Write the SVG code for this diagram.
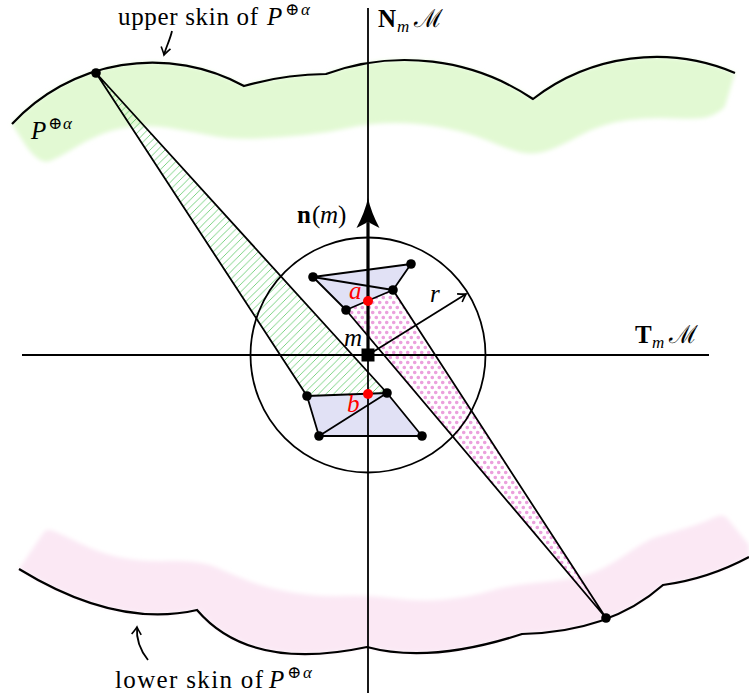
<svg xmlns="http://www.w3.org/2000/svg" width="749" height="700" viewBox="0 0 749 700">
<style>
.ln{fill:none;stroke:#000;stroke-width:1.8;stroke-linejoin:round}
.skin{fill:none;stroke:#000;stroke-width:2.2;stroke-linejoin:miter}
.dot{fill:#000}
.rdot{fill:#ff0000}
.poly{fill:#e1e1f5;stroke:none}
.t{font-family:"Liberation Serif","DejaVu Serif",serif;font-size:25px;fill:#000}
.i{font-style:italic}
.b{font-weight:bold}
.s{font-size:17px}
.red{fill:#ff0000}
</style>
<defs>
<filter id="blur" x="-5%" y="-20%" width="110%" height="140%"><feGaussianBlur stdDeviation="2"/></filter>
<pattern id="hatch" patternUnits="userSpaceOnUse" width="7.5" height="7.5">
<path d="M0,7.5 L7.5,0 M-1,1 L1,-1 M6.5,8.5 L8.5,6.5" stroke="#5cc866" stroke-width="0.8"/>
</pattern>
<pattern id="dots" patternUnits="userSpaceOnUse" width="7" height="10">
<circle cx="1.75" cy="2.5" r="1.8" fill="#eba0dd"/>
<circle cx="5.25" cy="7.5" r="1.8" fill="#eba0dd"/>
</pattern>
<marker id="to" viewBox="-10 -6 12 12" refX="0" refY="0" markerWidth="12" markerHeight="12" markerUnits="userSpaceOnUse" orient="auto">
<path d="M-7.5,-4.8 Q-2,-1 0,0 Q-2,1 -7.5,4.8" fill="none" stroke="#000" stroke-width="1.6"/>
</marker>
</defs>

<g id="bands">
<path filter="url(#blur)" fill="#e2f9d3" d="M12,124 A191,191 0 0 1 244,86 A300,300 0 0 1 326,74 A230,230 0 0 1 533,99 A202,202 0 0 1 735,73 L725,106 Q723,110 713,115 Q703,120 678,118.5 Q653,117 628,120 Q603,123 580,135.5 Q557,148 545,151.5 Q533,155 521.5,152.5 Q510,150 490,141.5 Q470,133 445,128 Q420,123 395,123 Q370,123 348.5,128 Q327,133 305,135 Q283,137 258,138.5 Q233,140 208,135 Q183,130 166.5,127.5 Q150,125 133.5,126.5 Q117,128 102,134 Q87,140 73.5,148.5 Q60,157 50,161 Q40,165 26,146 Z"/>
<path filter="url(#blur)" fill="#fbe8f4" d="M19,569 L44,532 Q47,528 57,532.5 Q67,537 83.5,545 Q100,553 120,557.5 Q140,562 170,561 Q200,560 216.5,567.5 Q233,575 250,581.5 Q267,588 292,592.5 Q317,597 343.5,596 Q370,595 395,598.5 Q420,602 445,599.5 Q470,597 490,591 Q510,585 540,582.5 Q570,580 586.5,575 Q603,570 625,555 Q647,540 655,537.5 Q663,535 683,529 Q703,523 713,518 Q723,513 727,518 L749,545 L749,557 Q708,579 663,585 Q610,632 522,634 Q430,664 367,647 Q250,672 197,610 Q116,628.5 19,569 Z"/>
</g>

<g id="upper-skin">
<path class="skin" d="M12,124 A191,191 0 0 1 244,86 A300,300 0 0 1 326,74 A230,230 0 0 1 533,99 A202,202 0 0 1 735,73"/>
</g>
<g id="lower-skin">
<path class="skin" d="M19,569 Q116,628.5 197,610 Q250,672 367,647 Q430,664 522,634 Q610,632 663,585 Q708,579 749,557"/>
</g>

<g id="regions">
<path d="M96,73 L307,396 L387,393 Z" fill="url(#hatch)"/>
<path d="M346,310 L393,290 L606,618 Z" fill="url(#dots)"/>
<path class="poly" d="M313,277 L411,264 L393,290 L346,310 Z"/>
<path class="poly" d="M307,396 L387,393 L422,436 L319,436 Z"/>
</g>

<g id="axes">
<line class="ln" x1="368" y1="8" x2="368" y2="693"/>
<line class="ln" x1="22" y1="355" x2="709" y2="355"/>
<circle class="ln" cx="368" cy="355" r="117.5"/>
</g>

<g id="connectors">
<path class="ln" d="M96,73 L307,396 M96,73 L387,393"/>
<path class="ln" d="M606,618 L346,310 M606,618 L393,290"/>
<path class="ln" d="M313,277 L411,264 L393,290 Z M313,277 L346,310 L393,290"/>
<path class="ln" d="M307,396 L387,393 L319,436 Z M319,436 L422,436 L387,393"/>
<line class="ln" x1="368" y1="355" x2="466" y2="294" marker-end="url(#to)"/>
<path class="ln" d="M172,31 C170,40 166,47 164,55" marker-end="url(#to)"/>
<path class="ln" d="M148,660 C140,650 136,640 137,627" marker-end="url(#to)"/>
</g>

<g id="normal">
<line x1="368" y1="355" x2="368" y2="223" stroke="#000" stroke-width="3.2"/>
<path d="M368,198 Q371,212 379.5,228 L368,222 L356.5,228 Q365,212 368,198 Z" fill="#000"/>
</g>

<g id="points">
<circle class="dot" cx="96" cy="73" r="4.8"/>
<circle class="dot" cx="606" cy="618" r="4.8"/>
<circle class="dot" cx="313" cy="277" r="4.8"/>
<circle class="dot" cx="411" cy="264" r="4.8"/>
<circle class="dot" cx="393" cy="290" r="4.8"/>
<circle class="dot" cx="346" cy="310" r="4.8"/>
<circle class="dot" cx="307" cy="396" r="4.8"/>
<circle class="dot" cx="387" cy="393" r="4.8"/>
<circle class="dot" cx="319" cy="436" r="4.8"/>
<circle class="dot" cx="422" cy="436" r="4.8"/>
<circle class="rdot" cx="368" cy="301" r="5"/>
<circle class="rdot" cx="368" cy="394" r="5"/>
<rect id="m-square" x="361.5" y="348.5" width="13" height="13" fill="#000"/>
</g>

<g id="labels">
<text class="t" x="118" y="25" textLength="140" lengthAdjust="spacing">upper skin of</text>
<text class="t i" x="267" y="25">P</text>
<text class="t s" x="285" y="15">⊕</text>
<text class="t s i" x="301" y="15">α</text>

<text class="t i" x="31" y="139">P</text>
<text class="t s" x="48" y="129">⊕</text>
<text class="t s i" x="63" y="129">α</text>

<text class="t" x="115" y="688" textLength="148" lengthAdjust="spacing">lower skin of</text>
<text class="t i" x="269" y="688">P</text>
<text class="t s" x="287" y="678">⊕</text>
<text class="t s i" x="303" y="678">α</text>

<text class="t b" x="378" y="27">N</text>
<text class="t s i" x="397" y="32">m</text>
<text class="t" x="414" y="27">ℳ</text>

<text class="t b" x="635" y="343">T</text>
<text class="t s i" x="652" y="348">m</text>
<text class="t" x="669" y="343">ℳ</text>

<text class="t b" x="297" y="223">n</text>
<text class="t" x="312" y="223">(</text>
<text class="t i" x="320" y="223">m</text>
<text class="t" x="338" y="223">)</text>

<text class="t i" x="344" y="346">m</text>
<text class="t i red" x="349" y="299">a</text>
<text class="t i red" x="347" y="412">b</text>
<text class="t i" x="430" y="302">r</text>
</g>
</svg>
